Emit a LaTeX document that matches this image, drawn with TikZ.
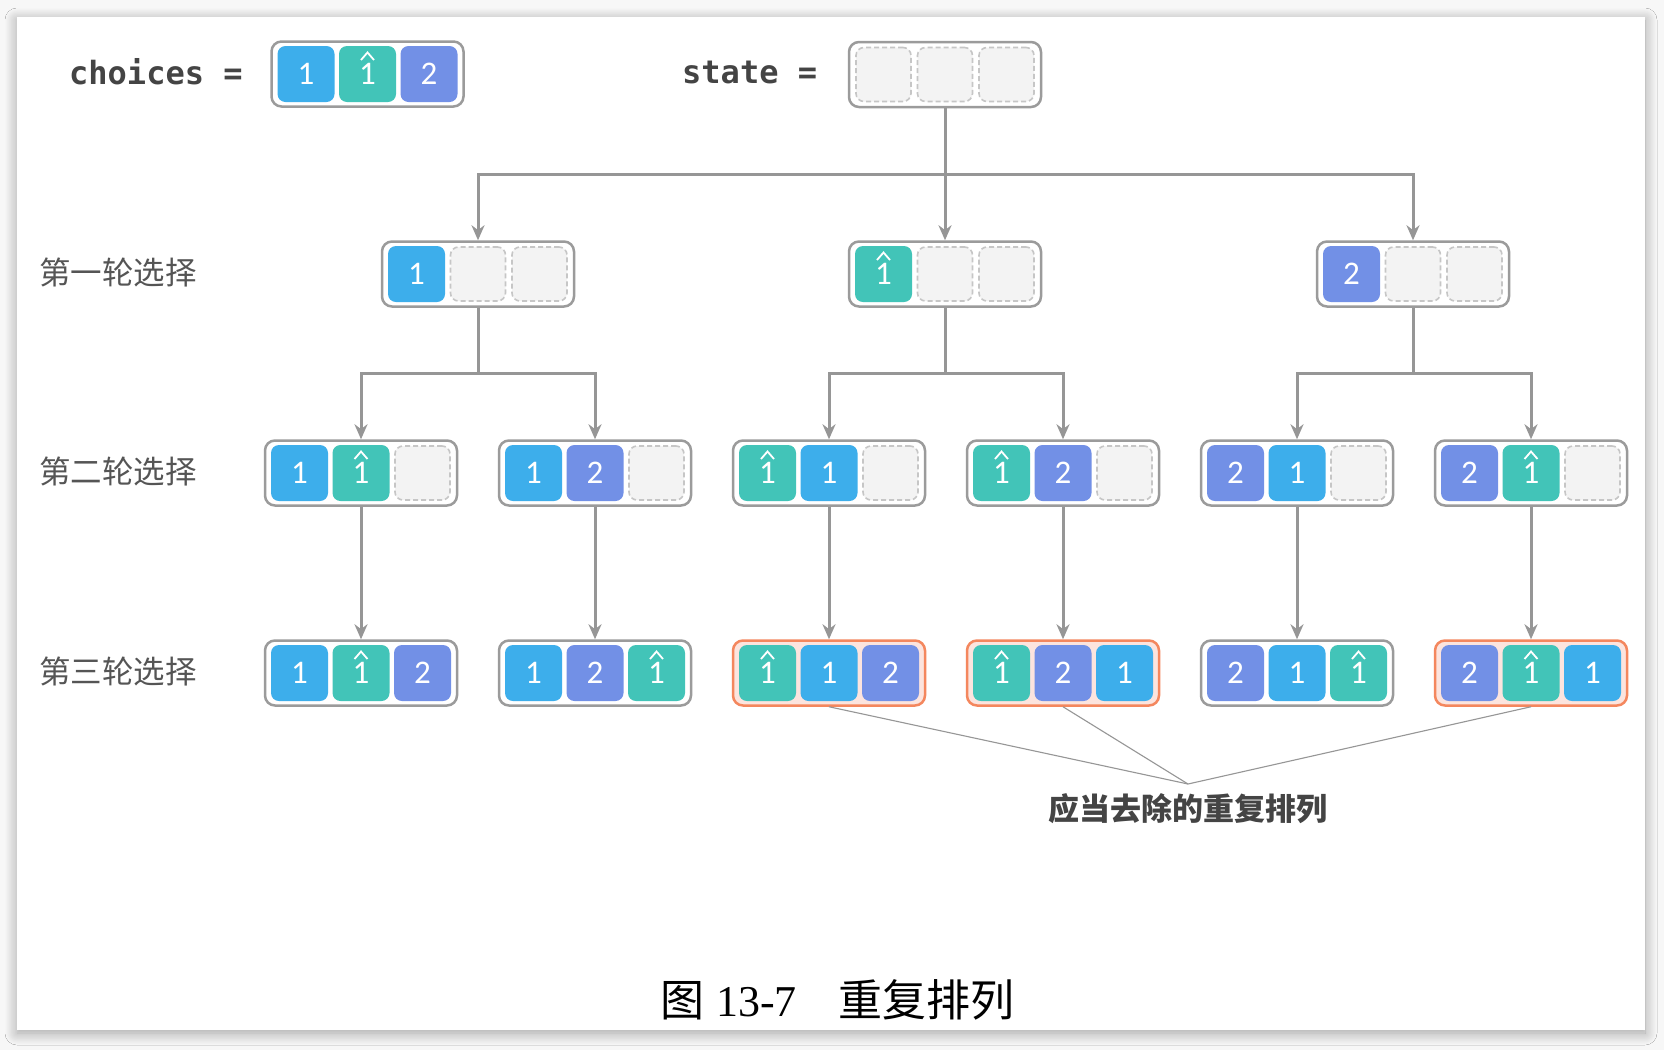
\documentclass[tikz,border=0pt]{standalone}
\usepackage{fontspec}
\usetikzlibrary{arrows.meta,calc,shadows.blur}

\newfontfamily\monofont{DejaVu Sans Mono}
\newfontfamily\cjkfont{Noto Sans CJK SC}
\newfontfamily\digitfont{Carlito}
\newfontfamily\capnumfont{Liberation Serif}

\definecolor{cblue}{HTML}{3DAEEB}
\definecolor{cteal}{HTML}{42C4B8}
\definecolor{cpurple}{HTML}{7290E6}
\definecolor{cempty}{HTML}{F3F3F3}
\definecolor{cdash}{HTML}{C6C6C6}
\definecolor{cframe}{HTML}{9B9B9B}
\definecolor{carrow}{HTML}{969696}
\definecolor{corange}{HTML}{F4875E}
\definecolor{cpink}{HTML}{FCE4DE}
\definecolor{ctext}{HTML}{444444}
\definecolor{clabel}{HTML}{555555}
\definecolor{cbg}{HTML}{F7F7F7}

% cell contents by kind: A = 1, H = 1 with caret, B = 2, E = empty
\newcommand{\ctextA}{1}
\newcommand{\ctextH}{1}
\newcommand{\ctextB}{2}
\newcommand{\ctextE}{}

\tikzset{
  frame/.style={draw=cframe, line width=2.5pt, fill=white, rounded corners=10pt,
    minimum width=192pt, minimum height=65pt, inner sep=0pt},
  dupframe/.style={frame, draw=corange, fill=cpink},
  cell/.style={rounded corners=8pt, minimum width=57pt, minimum height=56pt,
    inner sep=0pt, text=white, font=\digitfont\fontsize{33}{33}\selectfont},
  cellA/.style={cell, fill=cblue},
  cellB/.style={cell, fill=cpurple},
  cellH/.style={cell, fill=cteal},
  cellE/.style={cell, fill=cempty, draw=cdash, line width=1.6pt,
    dash pattern=on 5pt off 3pt, minimum width=55pt, minimum height=54pt},
  caretline/.style={white, line width=1.8pt, line join=miter},
  conn/.style={draw=carrow, line width=3pt, -{Stealth[length=15pt,width=13pt]}},
  trunk/.style={draw=carrow, line width=3pt},
  note/.style={draw=carrow, line width=1.1pt},
  rowlabel/.style={anchor=west, inner sep=0pt, text=clabel,
    font=\cjkfont\fontsize{31.5}{31.5}\selectfont},
  codelabel/.style={anchor=west, inner sep=0pt, text=ctext,
    font=\monofont\bfseries\fontsize{32}{32}\selectfont},
}

% a state box: name, x, y, frame style, three cell kinds
\newcommand{\stbox}[5]{%
  \node[#4] (#1) at (#2,#3) {};
  \foreach \k [count=\i] in {#5} {
    \node[cell\k] (#1-\i) at ($(#1)+({(\i-2)*61.5},0)$) {\csname ctext\k\endcsname};
    \if\k H
      \draw[caretline] ([xshift=-6.5pt,yshift=14pt]#1-\i.center)
        -- ([yshift=21.5pt]#1-\i.center) -- ([xshift=6.5pt,yshift=14pt]#1-\i.center);
    \fi
  }%
}

\begin{document}
\begin{tikzpicture}[x=1pt, y=-1pt]
  \useasboundingbox (0,0) rectangle (1664,1050);
  \fill[cbg] (0,0) rectangle (1664,1050);
  \fill[white, blur shadow={shadow xshift=0pt, shadow yshift=-3pt,
      shadow blur radius=12pt, shadow opacity=35, shadow blur steps=14}]
    (17,17) rectangle (1645,1030);

  % header: input choices and empty state
  \node[codelabel] (lchoices) at (69,72) {choices =};
  \stbox{ch}{367.5}{74}{frame}{A,H,B}
  \node[codelabel] (lstate) at (682,72) {state =};
  \stbox{s}{945}{74.5}{frame}{E,E,E}

  % row labels
  \node[rowlabel] (r1) at (39,272) {第一轮选择};
  \node[rowlabel] (r2) at (39,471) {第二轮选择};
  \node[rowlabel] (r3) at (39,671) {第三轮选择};

  % first round
  \stbox{a1}{478}{274}{frame}{A,E,E}
  \stbox{a2}{945}{274}{frame}{H,E,E}
  \stbox{a3}{1413}{274}{frame}{B,E,E}

  % second round
  \stbox{b1}{361}{473}{frame}{A,H,E}
  \stbox{b2}{595}{473}{frame}{A,B,E}
  \stbox{b3}{829}{473}{frame}{H,A,E}
  \stbox{b4}{1063}{473}{frame}{H,B,E}
  \stbox{b5}{1297}{473}{frame}{B,A,E}
  \stbox{b6}{1531}{473}{frame}{B,H,E}

  % third round
  \stbox{c1}{361}{673}{frame}{A,H,B}
  \stbox{c2}{595}{673}{frame}{A,B,H}
  \stbox{c3}{829}{673}{dupframe}{H,A,B}
  \stbox{c4}{1063}{673}{dupframe}{H,B,A}
  \stbox{c5}{1297}{673}{frame}{B,A,H}
  \stbox{c6}{1531}{673}{dupframe}{B,H,A}

  % tree connectors
  \coordinate (j0) at ($(s.south)!.5!(a2.north)$);
  \draw[conn] (s.south) -- (a2.north);
  \draw[conn] (j0) -| (a1.north);
  \draw[conn] (j0) -| (a3.north);

  \foreach \p/\l/\r in {a1/b1/b2, a2/b3/b4, a3/b5/b6} {
    \coordinate (j-\p) at ($(\p.south)!.5!(\p.south |- \l.north)$);
    \draw[trunk] (\p.south) -- (j-\p);
    \draw[conn] (j-\p) -| (\l.north);
    \draw[conn] (j-\p) -| (\r.north);
  }

  \foreach \i in {1,...,6} {
    \draw[conn] (b\i.south) -- (c\i.north);
  }

  % duplicates note
  \coordinate (m) at (1188,784);
  \draw[note] (c3.south) -- (m) -- (c6.south);
  \draw[note] (c4.south) -- (m);
  \node[inner sep=0pt, text=ctext, font=\cjkfont\bfseries\fontsize{31}{31}\selectfont]
    (dup) at (1188,809) {应当去除的重复排列};

  % caption
  \node[anchor=west, inner sep=0pt, text=black, font=\cjkfont\fontsize{44}{44}\selectfont]
    (cap) at (660,1000) {图\hspace{12pt}{\capnumfont 13-7}\hspace{42pt}重复排列};
\end{tikzpicture}
\end{document}
